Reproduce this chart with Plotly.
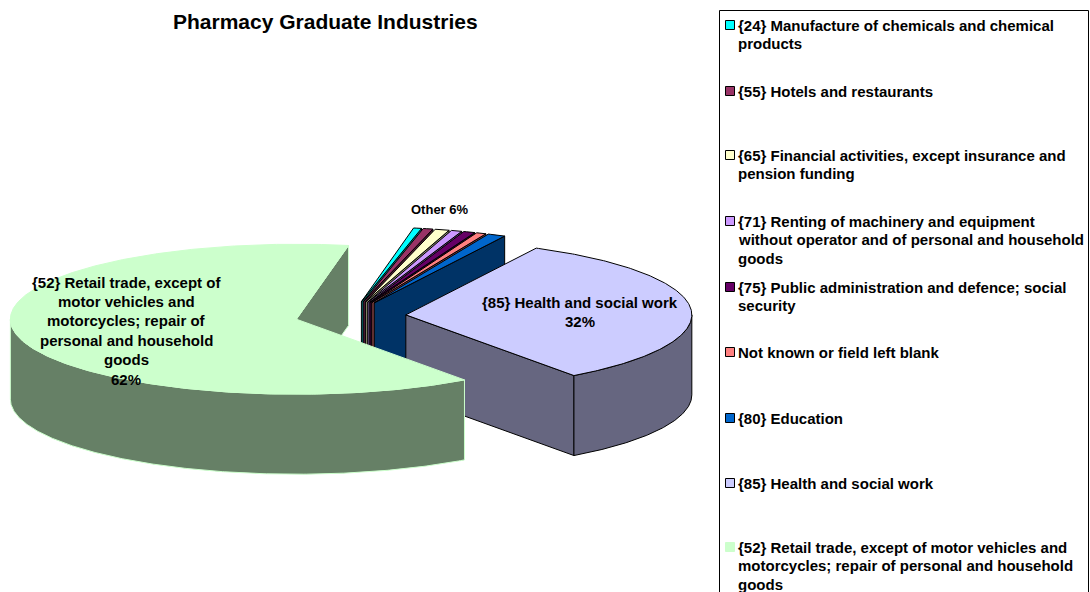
import math
import plotly.graph_objects as go

# ---------- data ----------
categories = [
    "{52} Retail trade, except of motor vehicles and motorcycles; repair of personal and household goods",
    "{24} Manufacture of chemicals and chemical products",
    "{55} Hotels and restaurants",
    "{65} Financial activities, except insurance and pension funding",
    "{71} Renting of machinery and equipment without operator and of personal and household goods",
    "{75} Public administration and defence; social security",
    "Not known or field left blank",
    "{80} Education",
    "{85} Health and social work",
]
values = [62.7, 0.45, 0.55, 0.8, 0.6, 0.65, 0.55, 1.0, 32.35]
top_colors = ["#CCFFCC", "#00FFFF", "#993366", "#FFFFCC", "#CC99FF", "#660066", "#FF8080", "#0066CC", "#CCCCFF"]
wall_colors = ["#668066", "#008080", "#4D1A33", "#808066", "#664D80", "#330033", "#804040", "#003366", "#666680"]
edge_colors = ["#CCFFCC", "#000000", "#000000", "#000000", "#000000", "#000000", "#000000", "#000000", "#000000"]

title_text = "Pharmacy Graduate Industries"
other_label = "Other 6%"
health_label = ["{85} Health and social work", "32%"]
retail_label = ["{52} Retail trade, except of", "motor vehicles and", "motorcycles; repair of",
                "personal and household", "goods", "62%"]

legend_order = [1, 2, 3, 4, 5, 6, 7, 8, 0]
legend_lines = [
    ["{24} Manufacture of chemicals and chemical", "products"],
    ["{55} Hotels and restaurants"],
    ["{65} Financial activities, except insurance and", "pension funding"],
    ["{71} Renting of machinery and equipment", "without operator and of personal and household", "goods"],
    ["{75} Public administration and defence; social", "security"],
    ["Not known or field left blank"],
    ["{80} Education"],
    ["{85} Health and social work"],
    ["{52} Retail trade, except of motor vehicles and", "motorcycles; repair of personal and household", "goods"],
]
legend_first_line_y = [25, 91, 155, 221, 287, 352, 418, 483, 547]

# ---------- geometry of the tilted, exploded pie ----------
CX, CY = 350.5, 316
RX, RY = 286, 75
DEPTH = 80
EXPLODE = 55.5
START = 144.0
LINE_H = 19


def pt(ang, ox, oy, dz=0):
    r = math.radians(ang)
    return ox + RX * math.sin(r), oy - RY * math.cos(r) + dz


def arc(a0, a1, ox, oy, dz=0):
    n = max(2, int(abs(a1 - a0) * 2))
    return [pt(a0 + (a1 - a0) * i / n, ox, oy, dz) for i in range(n + 1)]


def poly(fig, points, fill, edge, name):
    xs = [p[0] for p in points] + [points[0][0]]
    ys = [p[1] for p in points] + [points[0][1]]
    fig.add_trace(go.Scatter(x=xs, y=ys, mode="lines", fill="toself", fillcolor=fill,
                             line=dict(color=edge, width=1), name=name,
                             hoverinfo="name", showlegend=False))


fig = go.Figure()
total = sum(values)
a = START
slices = []
for i, v in enumerate(values):
    sweep = v / total * 360
    a0 = a % 360
    slices.append((i, a0, a0 + sweep))
    a += sweep

# paint order: small fan back-to-front, then health, then retail in front
for i, a0, a1 in slices[1:] + slices[:1]:
    mid = math.radians((a0 + a1) / 2)
    ox = CX + EXPLODE * math.sin(mid)
    oy = CY - EXPLODE * RY / RX * math.cos(mid)
    name = categories[i]
    # visible cut face at the end of the slice
    if math.sin(math.radians(a1)) > 0:
        rim = pt(a1, ox, oy)
        poly(fig, [(ox, oy), rim, (rim[0], rim[1] + DEPTH), (ox, oy + DEPTH)], wall_colors[i], edge_colors[i], name)
    # visible part of the outer wall: the front half of the ellipse
    f0, f1 = max(a0, 90), min(a1, 270)
    if f1 > f0:
        poly(fig, arc(f0, f1, ox, oy) + arc(f1, f0, ox, oy, DEPTH), wall_colors[i], edge_colors[i], name)
    # top surface
    poly(fig, [(ox, oy)] + arc(a0, a1, ox, oy), top_colors[i], edge_colors[i], name)

annotations = []


def text(x, y, s, size=15, anchor="center"):
    annotations.append(dict(x=x, y=y, xref="x", yref="y", text="<b>" + s + "</b>", showarrow=False,
                            xanchor=anchor, yanchor="middle",
                            font=dict(family="Liberation Sans", size=size, color="#000000")))


text(325, 21, title_text, size=21)
text(440, 209, other_label, size=13)
for k, s in enumerate(health_label):
    text(580, 302 + k * LINE_H, s)
for k, s in enumerate(retail_label):
    text(126, 282 + k * 19.4, s)

shapes = [dict(type="rect", xref="x", yref="y", x0=719.5, x1=1088.5, y0=10.5, y1=610,
               line=dict(color="#000000", width=1), fillcolor="rgba(0,0,0,0)")]
for idx, lines, y in zip(legend_order, legend_lines, legend_first_line_y):
    shapes.append(dict(type="rect", xref="x", yref="y", x0=725.5, x1=734.5, y0=y - 4.5, y1=y + 4.5,
                       fillcolor=top_colors[idx], line=dict(color=edge_colors[idx], width=1)))
    for k, s in enumerate(lines):
        text(736, y + k * 18.6, s, anchor="left")

fig.update_layout(
    width=1090, height=592, margin=dict(l=0, r=0, t=0, b=0),
    paper_bgcolor="#FFFFFF", plot_bgcolor="#FFFFFF", showlegend=False,
    xaxis=dict(range=[0, 1090], visible=False, fixedrange=True),
    yaxis=dict(range=[592, 0], visible=False, fixedrange=True),
    annotations=annotations, shapes=shapes,
)
fig.write_html("out.html", config=dict(displayModeBar=False),
               post_script="document.body.style.margin='0';document.body.style.overflow='hidden';")
